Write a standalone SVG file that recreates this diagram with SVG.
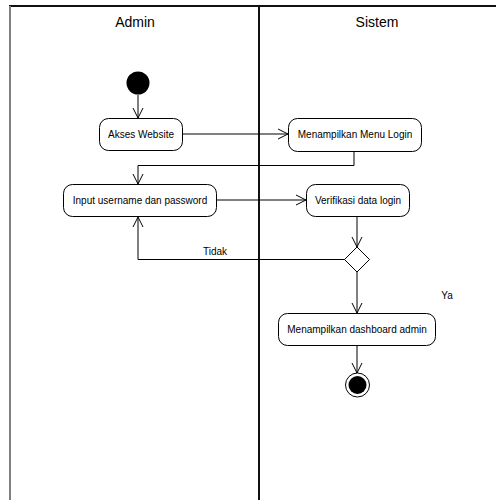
<svg xmlns="http://www.w3.org/2000/svg" width="496" height="500" viewBox="0 0 496 500">
<style>
.act{fill:#fff;stroke:#000;stroke-width:1}
.t{font-family:"Liberation Sans",Arial,sans-serif;font-size:10px;fill:#000;text-anchor:middle}
.h{font-family:"Liberation Sans",Arial,sans-serif;font-size:14px;fill:#000;text-anchor:middle}
.c{fill:none;stroke:#000;stroke-width:1}
</style>
<defs>
<marker id="arr" viewBox="0 0 12 12" refX="11" refY="6" markerWidth="12" markerHeight="12" markerUnits="userSpaceOnUse" orient="auto">
<path d="M1,1 L11,6 L1,11" fill="none" stroke="#000" stroke-width="1"/>
</marker>
</defs>
<rect width="496" height="500" fill="#fff"/>
<g id="swimlanes">
<line x1="9" y1="6" x2="496" y2="6" stroke="#111" stroke-width="2"/>
<line x1="10" y1="6" x2="10" y2="500" stroke="#808080" stroke-width="2"/>
<line x1="259" y1="6" x2="259" y2="500" stroke="#111" stroke-width="2"/>
<text class="h" x="135" y="27">Admin</text>
<text class="h" x="377" y="27">Sistem</text>
</g>
<g id="connectors">
<path class="c" d="M138,95 L138,118" marker-end="url(#arr)"/>
<path class="c" d="M182,134 L288,134" marker-end="url(#arr)"/>
<path class="c" d="M354,152 L354,165.5 L138,165.5 L138,184" marker-end="url(#arr)"/>
<path class="c" d="M216,200 L306,200" marker-end="url(#arr)"/>
<path class="c" d="M357,217 L357,247" marker-end="url(#arr)"/>
<path class="c" d="M345,259.5 L138,259.5 L138,217" marker-end="url(#arr)"/>
<path class="c" d="M357,272 L357,313" marker-end="url(#arr)"/>
<path class="c" d="M357,346 L357,373" marker-end="url(#arr)"/>
<text class="t" x="215" y="255">Tidak</text>
<text class="t" x="447" y="299">Ya</text>
</g>
<g id="start"><circle cx="138" cy="83" r="11.5" fill="#000"/></g>
<g id="akses">
<rect class="act" x="99.5" y="118.5" width="83" height="32" rx="9"/>
<text class="t" x="141" y="138">Akses Website</text>
</g>
<g id="menu-login">
<rect class="act" x="288.5" y="118.5" width="133" height="33" rx="9"/>
<text class="t" x="355" y="138">Menampilkan Menu Login</text>
</g>
<g id="input">
<rect class="act" x="63.5" y="184.5" width="153" height="32" rx="9"/>
<text class="t" x="140" y="204">Input username dan password</text>
</g>
<g id="verifikasi">
<rect class="act" x="306.5" y="184.5" width="103" height="32" rx="9"/>
<text class="t" x="358" y="204">Verifikasi data login</text>
</g>
<g id="decision">
<polygon points="357,247 369.5,259.5 357,272 344.5,259.5" fill="#fff" stroke="#000"/>
</g>
<g id="dashboard">
<rect class="act" x="278.5" y="313.5" width="157" height="32" rx="9"/>
<text class="t" x="357" y="333">Menampilkan dashboard admin</text>
</g>
<g id="end">
<circle cx="357.5" cy="385" r="12" fill="#fff" stroke="#000"/>
<circle cx="357.5" cy="385" r="9" fill="#000"/>
</g>
</svg>
